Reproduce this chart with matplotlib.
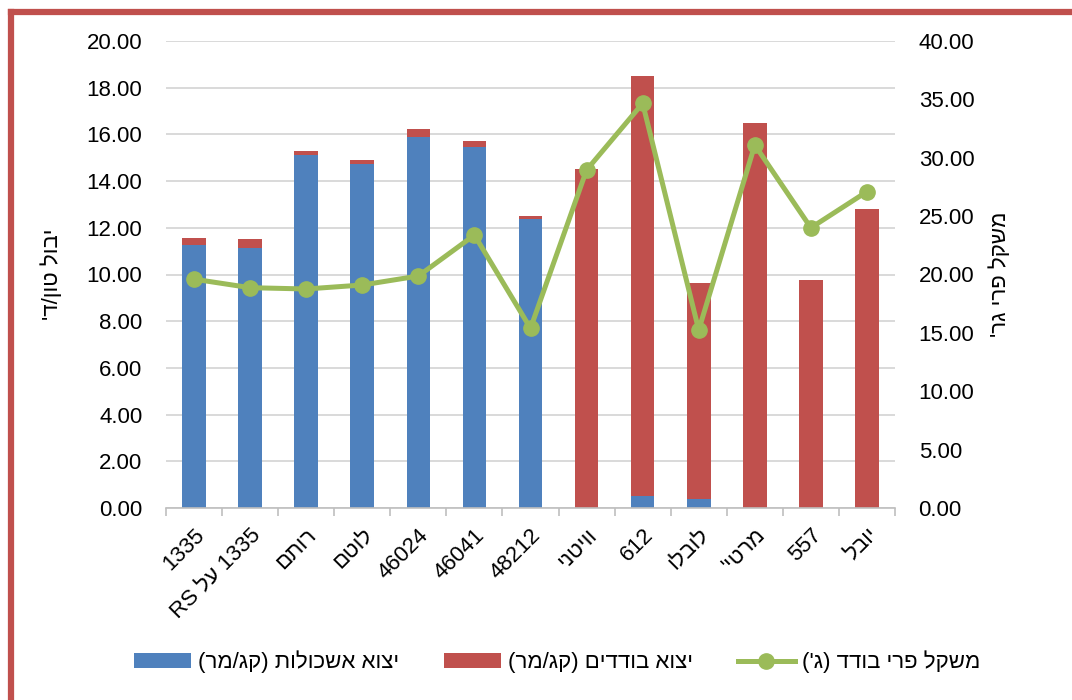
import re
import numpy as np
import matplotlib
matplotlib.use("Agg")
import matplotlib.pyplot as plt
from matplotlib.lines import Line2D

plt.rcParams['font.family'] = ['Liberation Sans', 'DejaVu Sans']

# ---------------- data (logical Hebrew order) ----------------
categories = ["1335", "1335 על RS", "רותם", "לוטם", "46024", "46041", "48212",
              "וויטני", "612", "לובלו", "מרטי'", "557", "יובל"]
cluster_yield = [11.25, 11.15, 15.13, 14.72, 15.88, 15.47, 12.36,
                 0.0, 0.50, 0.38, 0.0, 0.0, 0.0]
single_yield = [0.32, 0.37, 0.16, 0.18, 0.35, 0.23, 0.16,
                14.53, 18.02, 9.24, 16.49, 9.75, 12.79]
fruit_weight = [19.6, 18.87, 18.76, 19.1, 19.87, 23.38, 15.39,
                28.95, 34.66, 15.25, 31.09, 24.0, 27.1]

label_clusters = "יצוא אשכולות (קג/מר)"
label_singles = "יצוא בודדים (קג/מר)"
label_weight = "משקל פרי בודד (ג')"
left_title = "יבול טון/ד'"
right_title = "משקל פרי גר'"

left_ticks = [0, 2, 4, 6, 8, 10, 12, 14, 16, 18, 20]
right_ticks = [0, 5, 10, 15, 20, 25, 30, 35, 40]


def visual(s):
    """Simple RTL -> visual order conversion for matplotlib (no bidi)."""
    r = s[::-1]
    r = re.sub(r'[A-Za-z0-9.]+', lambda m: m.group(0)[::-1], r)
    return r.translate(str.maketrans('()', ')('))


BLUE = '#4F81BD'
RED = '#C0504D'
GREEN = '#9BBB59'
GRID = '#D9D9D9'

W, H = 1072, 700
fig = plt.figure(figsize=(W / 100, H / 100), dpi=100)
ax = fig.add_axes([166 / W, 1 - 508 / H, 729 / W, 467 / H])

x = np.arange(len(categories))
b1 = ax.bar(x, cluster_yield, width=0.42, color=BLUE, zorder=2)
b2 = ax.bar(x, single_yield, bottom=cluster_yield, width=0.42, color=RED, zorder=2)

ax.set_xlim(-0.5, len(categories) - 0.5)
ax.set_ylim(0, 20)
ax.set_yticks(left_ticks)
ax.set_yticklabels([f"{v:.2f}" for v in left_ticks])
ax.yaxis.grid(True, color=GRID, lw=1.4, zorder=0)
ax.set_axisbelow(True)
for s in ['left', 'right', 'top']:
    ax.spines[s].set_visible(False)
ax.spines['bottom'].set_color('#BFBFBF')
ax.spines['bottom'].set_linewidth(1.2)
ax.tick_params(axis='y', length=0, labelsize=16, pad=17)

ax.set_xticks(x)
ax.set_xticklabels([visual(c) for c in categories], rotation=45, ha='right',
                   va='top', rotation_mode='anchor', fontsize=16)
ax.tick_params(axis='x', which='major', length=0, pad=12)
ax.set_xticks(np.arange(-0.5, len(categories)), minor=True)
ax.tick_params(axis='x', which='minor', length=6, color='#BFBFBF', width=1.2)

ax2 = ax.twinx()
ln, = ax2.plot(x, fruit_weight, color=GREEN, lw=3.6, marker='o', markersize=11,
               zorder=3)
ax2.set_ylim(0, 40)
ax2.set_yticks(right_ticks)
ax2.set_yticklabels([f"{v:.2f}" for v in right_ticks])
for s in ['left', 'right', 'top', 'bottom']:
    ax2.spines[s].set_visible(False)
ax2.tick_params(axis='y', length=0, labelsize=16, pad=17)

fig.text(52 / W, 1 - 274 / H, visual(left_title), rotation=90, ha='center',
         va='center', fontsize=16)
fig.text(1000 / W, 1 - 274 / H, visual(right_title), rotation=90, ha='center',
         va='center', fontsize=16)

fig.legend([b1, b2, ln], [visual(label_clusters), visual(label_singles),
                          visual(label_weight)],
           loc='center', bbox_to_anchor=(557 / W, 1 - 662 / H), ncol=3,
           frameon=False, fontsize=16, handlelength=2.6, columnspacing=2.0,
           handletextpad=0.3, numpoints=1)

# frame border (red), cut off at right and bottom
fig.add_artist(Line2D([11 / W, 1.0], [1 - 12 / H, 1 - 12 / H], transform=fig.transFigure,
                      color=RED, lw=4.5, solid_capstyle='projecting'))
fig.add_artist(Line2D([11 / W, 11 / W], [0.0, 1 - 12 / H], transform=fig.transFigure,
                      color=RED, lw=4.5, solid_capstyle='projecting'))

fig.savefig("out.png", dpi=100)
